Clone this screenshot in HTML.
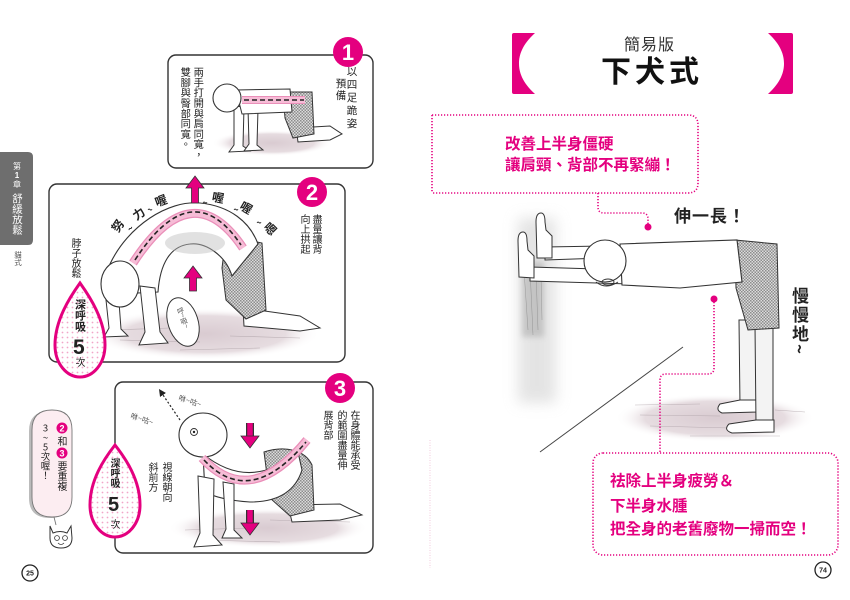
<!DOCTYPE html>
<html><head><meta charset="utf-8">
<style>
html,body{margin:0;padding:0;background:#fff;}
#pg{position:relative;width:850px;height:600px;overflow:hidden;background:#fff;font-family:"Liberation Sans","Noto Sans CJK TC",sans-serif;}
svg{position:absolute;left:0;top:0;}
.v{position:absolute;writing-mode:vertical-rl;font-family:"Noto Sans CJK TC",sans-serif;line-height:1;white-space:nowrap;color:#222;}
.h{position:absolute;white-space:nowrap;line-height:1;font-family:"Liberation Sans","Noto Sans CJK TC",sans-serif;}
.pk{color:#e4007f;font-weight:bold;font-size:15.5px;}
.up{text-orientation:upright;}
</style></head><body>
<div id="pg">
<svg width="850" height="600" viewBox="0 0 850 600" xmlns="http://www.w3.org/2000/svg">
<defs>
<pattern id="chk" width="3" height="3" patternUnits="userSpaceOnUse"><rect width="3" height="3" fill="#dcdcdc"/><rect width="1.5" height="1.5" fill="#8c8c8c"/><rect x="1.5" y="1.5" width="1.5" height="1.5" fill="#8c8c8c"/></pattern>
<pattern id="dots" width="5" height="5" patternUnits="userSpaceOnUse"><rect width="5" height="5" fill="#fff"/><circle cx="2.5" cy="2.5" r="0.9" fill="#f2a6c8"/></pattern>
<radialGradient id="flr" cx="0.5" cy="0.5" r="0.5"><stop offset="0" stop-color="#d9cbd1"/><stop offset="0.7" stop-color="#e6dce0"/><stop offset="1" stop-color="#fff" stop-opacity="0"/></radialGradient>
<filter id="bl" x="-50%" y="-50%" width="200%" height="200%"><feGaussianBlur stdDeviation="7"/></filter>
<filter id="bl2" x="-50%" y="-50%" width="200%" height="200%"><feGaussianBlur stdDeviation="3"/></filter>
<marker id="ah" markerWidth="6" markerHeight="6" refX="3" refY="3" orient="auto"><path d="M0,0 L6,3 L0,6 Z" fill="#222"/></marker>
</defs>

<!-- ============ LEFT PAGE ============ -->
<path d="M0,152 L28,152 Q33,152 33,157 L33,240 Q33,245 28,245 L0,245 Z" fill="#6e6e6e"/>

<!-- Panel 1 -->
<rect x="168" y="55" width="205" height="113" rx="8" fill="#fff" stroke="#333" stroke-width="1.4"/>
<ellipse cx="272" cy="143" rx="60" ry="13" fill="url(#flr)"/>
<path d="M296,128 L330,126 L342,134 L330,140 L298,142 Z" fill="#fff" stroke="#333" stroke-width="1"/>
<path d="M283,92 L312,92 L314,134 L293,138 L285,118 Z" fill="url(#chk)" stroke="#333" stroke-width="1"/>
<path d="M234,106 L244,107 L243,146 L250,151 L229,152 L234,145 Z" fill="#fff" stroke="#333" stroke-width="1"/>
<path d="M248,108 L258,109 L257,145 L263,150 L244,151 L249,144 Z" fill="#fff" stroke="#333" stroke-width="1"/>
<path d="M236,90 L290,89 L292,112 L242,114 Z" fill="#fff" stroke="#333" stroke-width="1"/>
<circle cx="227" cy="98" r="14" fill="#fff" stroke="#333" stroke-width="1.1"/>
<path d="M242,100 L305,100" stroke="#ea8fb9" stroke-width="8"/>
<path d="M242,100 L305,100" stroke="#f6bcd6" stroke-width="6"/>
<path d="M244,100 L304,100" stroke="#222" stroke-width="1.6" stroke-dasharray="5 3"/>
<circle cx="348" cy="52" r="15" fill="#e4007f"/>
<text x="348" y="60" text-anchor="middle" font-family="Liberation Sans" font-weight="bold" font-size="22" fill="#fff">1</text>

<!-- Panel 2 -->
<rect x="49" y="184" width="296" height="178" rx="8" fill="#fff" stroke="#333" stroke-width="1.4"/>
<ellipse cx="205" cy="334" rx="115" ry="26" fill="url(#flr)"/>
<g stroke="#a89ca2" stroke-width="0.6" opacity="0.7">
<path d="M110,330 L170,328 M120,340 L200,342 M180,350 L260,348 M230,336 L300,338"/>
</g>
<path d="M243,308 L300,316 L320,328 L300,331 L244,326 Z" fill="#fff" stroke="#333" stroke-width="1"/>
<path d="M226,236 L262,243 L266,310 L246,319 L226,300 L222,268 Z" fill="url(#chk)" stroke="#333" stroke-width="1"/>
<path d="M110,264 C128,226 168,200 200,203 C230,206 250,222 258,244 L232,276 C226,256 206,242 190,244 C170,246 160,264 158,292 L138,293 Z" fill="#fff" stroke="#333" stroke-width="1.1"/>
<ellipse cx="195" cy="243" rx="30" ry="11" fill="#bdbdbd" opacity="0.45"/>
<path d="M140,286 L155,288 L160,332 L168,343 L139,345 L145,332 Z" fill="#fff" stroke="#333" stroke-width="1"/>
<path d="M106,300 L119,302 L121,329 L128,336 L104,337 L109,328 Z" fill="#fff" stroke="#333" stroke-width="1"/>
<ellipse cx="120" cy="284" rx="19" ry="23" fill="#fff" stroke="#333" stroke-width="1.1"/>
<path d="M133,263 Q192,172 243,248" fill="none" stroke="#ea8fb9" stroke-width="9"/>
<path d="M133,263 Q192,172 243,248" fill="none" stroke="#f6bcd6" stroke-width="6.5"/>
<path d="M135,260 Q192,172 241,245" fill="none" stroke="#222" stroke-width="1.6" stroke-dasharray="5 3"/>
<ellipse cx="183" cy="322" rx="15" ry="25" transform="rotate(-18 183 322)" fill="#fff" stroke="#333" stroke-width="1"/>
<path d="M195,176 L204,188 L198.5,188 L198.5,203 L191.5,203 L191.5,188 L186,188 Z" fill="#e4007f" stroke="#333" stroke-width="0.8"/>
<path d="M193,266 L202,278 L196.5,278 L196.5,291 L189.5,291 L189.5,278 L184,278 Z" fill="#e4007f" stroke="#333" stroke-width="0.8"/>
<circle cx="312" cy="192" r="15" fill="#e4007f"/>
<text x="312" y="200" text-anchor="middle" font-family="Liberation Sans" font-weight="bold" font-size="22" fill="#fff">2</text>
<path d="M80,283 C70,297 55,320 55,345 C55,364 67,377 80,377 C93,377 105,364 105,345 C105,320 90,297 80,283 Z" fill="url(#dots)" stroke="#e4007f" stroke-width="3"/>
<g font-family="Noto Sans CJK TC, sans-serif" font-weight="bold" font-size="12" fill="#222" text-anchor="middle">
<text x="118" y="230" transform="rotate(-55 118 226)">努</text>
<text x="130" y="232" transform="rotate(-40 130 228)" font-size="9">~</text>
<text x="139" y="218" transform="rotate(-35 139 214)">力</text>
<text x="150" y="213" font-size="9">~</text>
<text x="161" y="205" transform="rotate(-20 161 201)">喔</text>
<text x="205" y="206" font-size="9">~</text>
<text x="218" y="202" transform="rotate(10 218 198)">喔</text>
<text x="236" y="213" font-size="9">~</text>
<text x="246" y="212" transform="rotate(30 246 208)">喔</text>
<text x="259" y="226" font-size="9">~</text>
<text x="270" y="233" transform="rotate(45 270 229)">嗯</text>
</g>

<!-- Panel 3 -->
<rect x="115" y="382" width="258" height="171" rx="8" fill="#fff" stroke="#333" stroke-width="1.4"/>
<ellipse cx="268" cy="528" rx="100" ry="20" fill="url(#flr)"/>
<g stroke="#a89ca2" stroke-width="0.6" opacity="0.7">
<path d="M185,530 L250,528 M200,540 L280,542 M270,520 L350,522"/>
</g>
<path d="M288,505 L340,504 L362,515 L340,520 L292,522 Z" fill="#fff" stroke="#333" stroke-width="1"/>
<path d="M264,452 C285,445 305,450 312,465 L314,510 L290,516 L270,498 Z" fill="url(#chk)" stroke="#333" stroke-width="1"/>
<path d="M203,454 Q250,492 298,452 L302,470 Q292,502 250,502 Q220,500 205,492 Z" fill="#fff" stroke="#333" stroke-width="1.1"/>
<path d="M223,482 L234,484 L234,530 L242,538 L222,538 L226,529 Z" fill="#fff" stroke="#333" stroke-width="1"/>
<path d="M198,476 L214,479 L213,535 L222,545 L194,547 L200,533 Z" fill="#fff" stroke="#333" stroke-width="1"/>
<ellipse cx="203" cy="435" rx="24" ry="22" fill="#fff" stroke="#333" stroke-width="1.1"/>
<circle cx="194" cy="432" r="3.5" fill="#fff" stroke="#333" stroke-width="0.9"/>
<circle cx="194" cy="432" r="1.2" fill="#222"/>
<path d="M202,458 Q250,510 307,440" fill="none" stroke="#ea8fb9" stroke-width="9"/>
<path d="M202,458 Q250,510 307,440" fill="none" stroke="#f6bcd6" stroke-width="6.5"/>
<path d="M204,460 Q250,509 306,442" fill="none" stroke="#222" stroke-width="1.6" stroke-dasharray="5 3"/>
<path d="M180,420 L161,392" stroke="#222" stroke-width="1.2" stroke-dasharray="2 2" marker-end="url(#ah)"/>
<g font-size="7.5" fill="#555" font-family="Noto Sans CJK TC, sans-serif">
<text x="178" y="400" transform="rotate(18 178 400)">咻~咕~</text>
<text x="130" y="418" transform="rotate(18 130 418)">咻~咕~</text>
</g>
<path d="M250,423 L250,437" stroke="#333" stroke-width="8"/>
<path d="M250,423 L250,437" stroke="#e4007f" stroke-width="5.5"/>
<path d="M250,448 L241,436 L259,436 Z" fill="#e4007f" stroke="#333" stroke-width="0.8"/>
<path d="M250,510 L250,524" stroke="#333" stroke-width="8"/>
<path d="M250,510 L250,524" stroke="#e4007f" stroke-width="5.5"/>
<path d="M250,535 L241,523 L259,523 Z" fill="#e4007f" stroke="#333" stroke-width="0.8"/>
<circle cx="340" cy="388" r="15" fill="#e4007f"/>
<text x="340" y="396" text-anchor="middle" font-family="Liberation Sans" font-weight="bold" font-size="22" fill="#fff">3</text>
<path d="M115,445 C104,459 90,480 90,505 C90,524 102,537 115,537 C128,537 140,524 140,505 C140,480 126,459 115,445 Z" fill="url(#dots)" stroke="#e4007f" stroke-width="3"/>

<!-- cat bubble -->
<path d="M31,430 Q31,410 52,410 Q73,410 73,430 L73,497 Q73,517 52,517 Q31,517 31,497 Z" fill="#bbb" transform="translate(-2,1)"/>
<path d="M32,430 Q32,410 52,410 Q72,410 72,430 L72,497 Q72,517 52,517 Q32,517 32,497 Z" fill="#fcedf1" stroke="#777" stroke-width="0.9"/>
<path d="M54,517 L56,525" stroke="#777" stroke-width="0.9"/>
<path d="M50,526 L53,533 Q60,530 67,533 L71,526 L72,538 Q72,548 61,548 Q50,548 50,538 Z" fill="#fff" stroke="#333" stroke-width="1"/>
<circle cx="57" cy="538" r="2.4" fill="#fff" stroke="#333" stroke-width="0.8"/>
<circle cx="65" cy="538" r="2.4" fill="#fff" stroke="#333" stroke-width="0.8"/>
<path d="M58,543 Q61,546 64,543" fill="none" stroke="#333" stroke-width="0.8"/>
<circle cx="62" cy="428" r="5.5" fill="#e4007f"/>
<text x="62" y="431.5" text-anchor="middle" font-family="Liberation Sans" font-weight="bold" font-size="9" fill="#fff">2</text>
<circle cx="62" cy="453" r="5.5" fill="#e4007f"/>
<text x="62" y="456.5" text-anchor="middle" font-family="Liberation Sans" font-weight="bold" font-size="9" fill="#fff">3</text>

<circle cx="30" cy="573" r="8" fill="#fff" stroke="#222" stroke-width="1.3"/>
<text x="30" y="575.5" text-anchor="middle" font-family="Liberation Sans" font-weight="bold" font-size="7" fill="#222">25</text>

<path d="M430,440 L430,568" stroke="#e9a6c6" stroke-width="1" stroke-dasharray="1 1.5" opacity="0.6"/>

<!-- ============ RIGHT PAGE ============ -->
<path d="M514,33 L535,33 C522,45 519,55 519,63.5 C519,72 522,82 535,94 L514,94 Q512,94 512,92 L512,35 Q512,33 514,33 Z" fill="#e4007f"/>
<path d="M791,33 L768,33 C781,45 784,55 784,63.5 C784,72 781,82 768,94 L791,94 Q793,94 793,92 L793,35 Q793,33 791,33 Z" fill="#e4007f"/>

<path d="M432,115 L688,115 Q698,115 698,125 L698,183 Q698,193 688,193 L432,193" fill="none" stroke="#e4007f" stroke-width="1.6" stroke-dasharray="1.2 1.8"/>
<path d="M432,115 L432,193" stroke="#e4007f" stroke-width="1.6" stroke-dasharray="1.2 1.8"/>
<path d="M598,193 L598,207 Q598,213 604,213 L642,213 Q648,213 648,219 L648,227" fill="none" stroke="#e4007f" stroke-width="1.6" stroke-dasharray="1.2 1.8"/>
<circle cx="648" cy="227" r="3.5" fill="#e4007f"/>

<!-- wall shading (soft) -->
<rect x="518" y="218" width="38" height="185" fill="#d2d2d2" filter="url(#bl)" opacity="0.6"/>
<rect x="522" y="262" width="22" height="75" fill="#8a8a8a" filter="url(#bl2)" opacity="0.35"/>
<g stroke="#666" stroke-width="0.5" opacity="0.5">
<path d="M524,270 L528,330 M530,268 L533,335 M536,272 L538,330 M541,275 L542,320"/>
</g>
<ellipse cx="715" cy="418" rx="100" ry="24" fill="url(#flr)"/>
<g stroke="#a89ca2" stroke-width="0.6" opacity="0.7">
<path d="M635,405 L700,404 M640,415 L720,416 M650,426 L730,428 M690,436 L780,436 M775,410 L805,412"/>
</g>
<path d="M683,347 L540,452" stroke="#444" stroke-width="1"/>

<path d="M739,320 L757,320 L757,404 L740,406 Z" fill="#f3f3f3" stroke="#333" stroke-width="1"/>
<path d="M740,400 L757,400 L757,412 L722,413 Q715,410 720,404 Z" fill="#fff" stroke="#333" stroke-width="1"/>
<path d="M755,325 L773,325 L773,424 L756,424 Z" fill="#f3f3f3" stroke="#333" stroke-width="1"/>
<path d="M756,420 L774,420 L774,432 L732,433 Q723,430 729,424 Z" fill="#fff" stroke="#333" stroke-width="1"/>
<path d="M735,240 L777,244 L779,328 L748,330 L736,288 Z" fill="url(#chk)" stroke="#333" stroke-width="1"/>
<path d="M545,247 L603,246 L603,258 L545,260 Z" fill="#fff" stroke="#333" stroke-width="1"/>
<path d="M530,267 L630,270 L630,284 L530,281 Z" fill="#fff" stroke="#333" stroke-width="1"/>
<path d="M537,258 L536,222 Q536,213 541,213 Q545,213 545,222 L546,230 L552,236 L552,258 Z" fill="#fff" stroke="#333" stroke-width="1"/>
<path d="M519,277 L518,241 Q518,232 523,232 Q527,232 527,241 L528,250 L534,256 L534,278 Z" fill="#fff" stroke="#333" stroke-width="1"/>
<path d="M620,244 L737,240 L742,282 L680,288 L622,285 Z" fill="#fff" stroke="#333" stroke-width="1.1"/>
<circle cx="605" cy="261" r="21" fill="#fff" stroke="#333" stroke-width="1.1"/>
<path d="M596,282 Q606,290 618,282" fill="none" stroke="#333" stroke-width="1"/>
<ellipse cx="608" cy="282" rx="6" ry="3" fill="none" stroke="#333" stroke-width="0.9"/>

<circle cx="714" cy="299" r="3.5" fill="#e4007f"/>
<path d="M714,299 L714,368 Q714,374 708,374 L666,374 Q660,374 660,380 L660,453" fill="none" stroke="#e4007f" stroke-width="1.6" stroke-dasharray="1.2 1.8"/>
<rect x="593" y="453" width="245" height="102" rx="10" fill="none" stroke="#e4007f" stroke-width="1.6" stroke-dasharray="1.2 1.8"/>

<circle cx="823" cy="570" r="8" fill="#fff" stroke="#222" stroke-width="1.3"/>
<text x="823" y="572.5" text-anchor="middle" font-family="Liberation Sans" font-weight="bold" font-size="7" fill="#222">74</text>

<g fill="#fff" font-family="Noto Sans CJK TC, sans-serif" text-anchor="middle">
<text x="17" y="169" font-size="8">第</text>
<text x="17" y="178" font-size="8" font-family="Liberation Sans" font-weight="bold">1</text>
<text x="17" y="187" font-size="8">章</text>
</g>
<!-- panel 1 right column as svg text for exact placement -->
<g fill="#222" font-family="Noto Sans CJK TC, sans-serif" font-size="10.5" text-anchor="middle">
<text x="352" y="75">以</text><text x="352" y="88">四</text><text x="352" y="101">足</text><text x="352" y="114">跪</text><text x="352" y="127">姿</text>
<text x="341" y="87">預</text><text x="341" y="99">備</text>
</g>
</svg>

<div class="v" style="left:11.5px;top:193px;font-size:10.5px;color:#fff;">舒緩放鬆</div>
<div class="v" style="left:14px;top:251px;font-size:7.5px;color:#555;">貓式</div>

<div class="v" style="left:193px;top:67px;font-size:10.3px;">兩手打開與肩同寬，</div>
<div class="v" style="left:180px;top:67px;font-size:10.3px;">雙腳與臀部同寬。</div>

<div class="v" style="left:312px;top:214px;font-size:10px;">盡量讓背</div>
<div class="v" style="left:300px;top:214px;font-size:10px;">向上拱起</div>
<div class="v" style="left:71px;top:238px;font-size:10px;">脖子放鬆</div>
<div class="v" style="left:74.5px;top:299px;font-size:11px;font-weight:bold;">深呼吸</div>
<div class="h" style="left:73px;top:337px;font-size:21px;font-weight:bold;font-family:'Liberation Sans',sans-serif;color:#222;">5</div>
<div class="v" style="left:75px;top:357px;font-size:10px;">次</div>
<div class="v" style="left:179px;top:307px;font-size:7px;color:#555;transform:rotate(-18deg);">呼~吸~</div>

<div class="v" style="left:350px;top:410px;font-size:10px;">在身體能承受</div>
<div class="v" style="left:337px;top:410px;font-size:10px;">的範圍盡量伸</div>
<div class="v" style="left:323px;top:410px;font-size:10px;">展背部</div>
<div class="v" style="left:162px;top:462px;font-size:10px;">視線朝向</div>
<div class="v" style="left:148px;top:462px;font-size:10px;">斜前方</div>
<div class="v" style="left:110px;top:458px;font-size:10px;font-weight:bold;">深呼吸</div>
<div class="h" style="left:108px;top:495px;font-size:20px;font-weight:bold;font-family:'Liberation Sans',sans-serif;color:#222;">5</div>
<div class="v" style="left:110px;top:519px;font-size:10px;">次</div>

<div class="v" style="left:57px;top:436px;font-size:10px;">和</div>
<div class="v" style="left:57px;top:461px;font-size:10px;">要重複</div>
<div class="v up" style="left:40px;top:423px;font-size:9.5px;">3~5次喔！</div>

<div class="h" style="left:624px;top:38px;font-size:16px;color:#333;letter-spacing:1px;">簡易版</div>
<div class="h" style="left:601px;top:58px;font-size:30px;font-weight:bold;color:#111;letter-spacing:4px;">下犬式</div>

<div class="h pk" style="left:505px;top:137px;">改善上半身僵硬</div>
<div class="h pk" style="left:505px;top:158px;">讓肩頸、背部不再緊繃！</div>

<div class="h" style="left:674px;top:208px;font-size:17px;font-weight:bold;color:#222;letter-spacing:1px;">伸一長！</div>
<div class="v" style="left:792px;top:287px;font-size:17px;font-weight:bold;letter-spacing:2px;">慢慢地~</div>

<div class="h pk" style="left:610px;top:474px;">祛除上半身疲勞＆</div>
<div class="h pk" style="left:610px;top:499px;">下半身水腫</div>
<div class="h pk" style="left:610px;top:522px;">把全身的老舊廢物一掃而空！</div>
</div>
</body></html>
